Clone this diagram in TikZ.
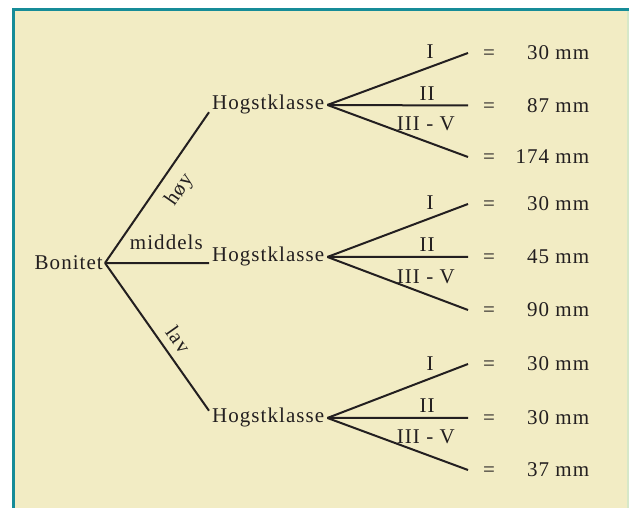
\documentclass[tikz,border=0pt]{standalone}
\usepackage{fontspec}
\setmainfont{Liberation Serif}[LetterSpace=5]

\definecolor{mykhaki}{RGB}{242,236,196}
\definecolor{myteal}{RGB}{22,140,152}
\definecolor{mylight}{RGB}{214,232,200}
\definecolor{myink}{RGB}{35,31,32}

\begin{document}
\begin{tikzpicture}[x=1pt, y=1pt]

\tikzset{myline/.style={draw=myink, line width=2pt}}
\tikzset{mytext/.style={text=myink, inner sep=3pt, font=\fontsize{21}{25}\selectfont}}
\tikzset{myklasse/.style={mytext, anchor=base west}}
\tikzset{myleaf/.style={mytext, anchor=west, inner xsep=15pt, inner ysep=0pt}}

\useasboundingbox (0,0) rectangle (629,508);

% frame
\fill[mykhaki] (12,0) rectangle (629,499);
\draw[mylight, line width=1.5pt] (628,0) -- (628,497);
\draw[myteal, line width=3pt] (13.3,0) -- (13.3,498.5) -- (629,498.5);

% root and the three classes
\node[mytext, anchor=east, inner sep=2pt] (bonitet) at (105,245) {Bonitet};
\node[myklasse] (hk1) at (209,398) {Hogstklasse};
\node[myklasse] (hk2) at (209,246) {Hogstklasse};
\node[myklasse] (hk3) at (209,85) {Hogstklasse};

\draw[myline] (bonitet.east) -- node[mytext, sloped, below=6.5pt, pos=0.56] (hoy) {høy} (hk1.187);
\draw[myline] (bonitet.east) -- node[mytext, above=9pt, pos=0.59] (middels) {middels} (hk2.186);
\draw[myline] (bonitet.east) -- node[mytext, sloped, above=4.6pt, pos=0.58] (lav) {lav} (hk3.173);

% results
\node[myleaf] (r11) at (468,455) {\makebox[106pt]{=\hfill 30 mm}};
\node[myleaf] (r12) at (468,402.5) {\makebox[106pt]{=\hfill 87 mm}};
\node[myleaf] (r13) at (468,351) {\makebox[106pt]{=\hfill 174 mm}};

\node[myleaf] (r21) at (468,304) {\makebox[106pt]{=\hfill 30 mm}};
\node[myleaf] (r22) at (468,251) {\makebox[106pt]{=\hfill 45 mm}};
\node[myleaf] (r23) at (468,198) {\makebox[106pt]{=\hfill 90 mm}};

\node[myleaf] (r31) at (468,144) {\makebox[106pt]{=\hfill 30 mm}};
\node[myleaf] (r32) at (468,90) {\makebox[106pt]{=\hfill 30 mm}};
\node[myleaf] (r33) at (468,38) {\makebox[106pt]{=\hfill 37 mm}};

\draw[myline] (hk1.east) -- node[mytext, above=4.5pt, pos=0.73] (k11) {I} (r11.west);
\draw[myline] (hk1.east) -- node[mytext, above=1pt, pos=0.71] (k12) {II} (r12.west);
\draw[myline] (hk1.east) -- node[mytext, above=6.5pt, pos=0.7] (k13) {III - V} (r13.west);

\draw[myline] (hk2.east) -- node[mytext, above=4.5pt, pos=0.73] (k21) {I} (r21.west);
\draw[myline] (hk2.east) -- node[mytext, above=1pt, pos=0.71] (k22) {II} (r22.west);
\draw[myline] (hk2.east) -- node[mytext, above=6.5pt, pos=0.7] (k23) {III - V} (r23.west);

\draw[myline] (hk3.east) -- node[mytext, above=4.5pt, pos=0.73] (k31) {I} (r31.west);
\draw[myline] (hk3.east) -- node[mytext, above=1pt, pos=0.71] (k32) {II} (r32.west);
\draw[myline] (hk3.east) -- node[mytext, above=6.5pt, pos=0.7] (k33) {III - V} (r33.west);

\end{tikzpicture}
\end{document}
